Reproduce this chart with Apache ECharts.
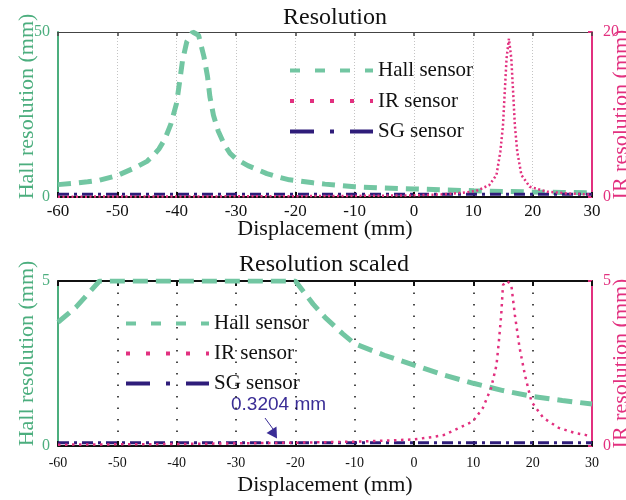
<!DOCTYPE html>
<html>
<head>
<meta charset="utf-8">
<script src="https://cdn.jsdelivr.net/npm/echarts@6/dist/echarts.min.js"></script>
<style>
  html, body { margin: 0; padding: 0; background: #fff; }
  #main { width: 626px; height: 500px; }
</style>
</head>
<body>
<div id="main"></div>
<script>
// displacement positions (mm) and values
const hallX = [-60, -57, -55, -53, -50, -47, -45, -44, -43, -42, -41, -40, -39.5, -39, -38.3, -37.3, -36.3, -35.4, -34.8, -34.4, -33.8, -33, -32, -31, -30, -28, -26, -24.8, -23, -21, -20, -17, -15, -12, -10, -5, 0, 5, 10, 15, 20, 25, 30]
const hallRes = [3.75, 4.2, 4.6, 5.1, 6.5, 8.9, 10.8, 12.5, 14.5, 17.5, 22, 28.5, 35, 41.5, 47, 50, 49, 42.5, 36.5, 30.4, 24.8, 20, 16, 13.2, 11.6, 9.5, 8, 7.1, 6.1, 5.2, 5.0, 4.3, 3.9, 3.4, 3.1, 2.75, 2.45, 2.15, 1.9, 1.68, 1.5, 1.38, 1.27]

const irTopX = [-60, -40, -20, -10, 0, 5, 8, 10.5, 12.7, 13.9, 14.55, 15.0, 15.3, 15.6, 16.0, 16.4, 16.7, 17.0, 17.4, 18.1, 19.5, 22.4, 26, 30]
const irTopRes = [0.04, 0.06, 0.1, 0.13, 0.2, 0.33, 0.5, 0.73, 1.45, 2.67, 5.5, 8.7, 12.8, 16.8, 19.2, 16.8, 12.8, 8.7, 5.5, 2.67, 1.25, 0.65, 0.42, 0.3]

const irScaledX = [-60, -50, -40, -30, -20, -10, -5, 0, 3, 5, 7.6, 9.9, 11.6, 13.0, 13.9, 14.3, 14.7, 15.0, 15.7, 16.4, 17.0, 17.8, 18.7, 19.8, 21.8, 24.4, 27, 29, 30]
const irScaledRes = [0.04, 0.05, 0.06, 0.08, 0.1, 0.13, 0.16, 0.2, 0.27, 0.33, 0.55, 0.74, 1.15, 1.76, 2.45, 3.16, 3.97, 4.88, 5.0, 4.88, 3.97, 2.97, 2.15, 1.34, 0.85, 0.55, 0.4, 0.33, 0.3]

const sgX = [-60, 30]
const sgTop = 0.32
const sgScaled = 0.1
const sgNote = '0.3204 mm'

const xTicks = { min: -60, max: 30, interval: 10 }
const hallMaxTop = 50
const irMaxTop = 20
const maxScaled = 5

const GREEN = '#72c6a2'
const GREEN_AX = '#4cae7e'
const PINK = '#e2307f'
const SG = '#2f1d7a'
const SERIF = 'Liberation Serif'

const zip = (xs, ys) => xs.map((x, i) => [x, ys[i]])

const chart = echarts.init(document.getElementById('main'))

function xAx(grid, pos, opts) {
  return Object.assign({
    type: 'value',
    gridIndex: grid,
    position: pos,
    min: xTicks.min,
    max: xTicks.max,
    interval: xTicks.interval,
    axisLine: { onZero: false, lineStyle: { color: '#111', width: 2 } },
    axisTick: { inside: true, length: 5, lineStyle: { color: '#111', width: 2 } },
    axisLabel: { show: false },
    splitLine: { show: false },
    nameMoveOverlap: false
  }, opts)
}

function yAx(grid, pos, max, color, name, opts) {
  return Object.assign({
    type: 'value',
    gridIndex: grid,
    position: pos,
    min: 0,
    max: max,
    interval: max,
    axisLine: { show: true, onZero: false, lineStyle: { color: color, width: 2 } },
    axisTick: { show: pos === 'right', inside: true, length: 4, lineStyle: { color: color, width: 2 } },
    axisLabel: { color: color, fontFamily: SERIF, fontSize: 16, margin: pos === 'right' ? 11 : 8 },
    splitLine: { show: false },
    name: name,
    nameLocation: 'middle',
    nameRotate: 90,
    nameMoveOverlap: false,
    nameTextStyle: { color: color, fontFamily: SERIF, fontSize: 22 }
  }, opts)
}

const legendItems = [
  { name: 'Hall sensor', lineStyle: { width: 4, type: [10, 15], cap: 'butt' } },
  { name: 'IR sensor', lineStyle: { width: 4, type: [4, 16], cap: 'butt' } },
  { name: 'SG sensor', lineStyle: { width: 4, type: [24, 16, 4, 16], cap: 'butt' } }
]

const legendBase = {
  orient: 'vertical', itemWidth: 83, itemHeight: 14,
  itemStyle: { opacity: 0 },
  textStyle: { fontFamily: SERIF, fontSize: 21, color: '#111' },
  data: legendItems
}

const option = {
  animation: false,
  backgroundColor: '#fff',
  grid: [
    { left: 58, right: 34, top: 32, height: 165, outerBoundsMode: 'none' },
    { left: 58, right: 34, top: 281, height: 165, outerBoundsMode: 'none' }
  ],
  legend: [
    Object.assign({ left: 283, top: 55, itemGap: 9.5 }, legendBase),
    Object.assign({ left: 119, top: 308, itemGap: 9 }, legendBase)
  ],
  xAxis: [
    xAx(0, 'bottom', {
      axisLabel: { color: '#111', fontFamily: SERIF, fontSize: 17, margin: 6 },
      splitLine: { show: true, lineStyle: { color: '#c4c4c4', width: 1, type: [1, 2] } },
      name: 'Displacement (mm)', nameLocation: 'middle', nameGap: 21,
      nameTextStyle: { color: '#111', fontFamily: SERIF, fontSize: 22 }
    }),
    xAx(0, 'top', {
      axisLine: { onZero: false, lineStyle: { color: '#444', width: 1 } },
      axisTick: { inside: true, length: 4, lineStyle: { color: '#444', width: 1.5 } }
    }),
    xAx(1, 'bottom', {
      axisLabel: { color: '#111', fontFamily: SERIF, fontSize: 14, margin: 10 },
      splitLine: { show: true, lineStyle: { color: '#111', width: 1.5, type: [1.5, 10] } },
      name: 'Displacement (mm)', nameLocation: 'middle', nameGap: 28,
      nameTextStyle: { color: '#111', fontFamily: SERIF, fontSize: 22 }
    }),
    xAx(1, 'top', {})
  ],
  yAxis: [
    yAx(0, 'left', hallMaxTop, GREEN_AX, 'Hall resolution (mm)', {
      nameGap: 20,
      nameTextStyle: { color: GREEN_AX, fontFamily: SERIF, fontSize: 22, padding: [0, 0, 0, 16] }
    }),
    yAx(0, 'right', irMaxTop, PINK, 'IR resolution (mm)', { nameGap: 18 }),
    yAx(1, 'left', maxScaled, GREEN_AX, 'Hall resolution (mm)', {
      nameGap: 20,
      nameTextStyle: { color: GREEN_AX, fontFamily: SERIF, fontSize: 22, padding: [0, 0, 0, 20] }
    }),
    yAx(1, 'right', maxScaled, PINK, 'IR resolution (mm)', { nameGap: 18 })
  ],
  series: [
    {
      name: 'Hall sensor', type: 'line', xAxisIndex: 0, yAxisIndex: 0, showSymbol: false, symbol: 'none',
      lineStyle: { color: GREEN, width: 5, type: [13, 8], cap: 'butt' }, itemStyle: { color: GREEN },
      data: zip(hallX, hallRes), z: 3
    },
    {
      name: 'IR sensor', type: 'line', xAxisIndex: 0, yAxisIndex: 1, showSymbol: false, symbol: 'none',
      lineStyle: { color: PINK, width: 2.5, type: [2, 2.5], cap: 'butt' }, itemStyle: { color: PINK },
      data: zip(irTopX, irTopRes), z: 4
    },
    {
      name: 'SG sensor', type: 'line', xAxisIndex: 0, yAxisIndex: 1, showSymbol: false, symbol: 'none',
      lineStyle: { color: SG, width: 3, type: [11, 5, 3, 5], cap: 'butt' }, itemStyle: { color: SG },
      data: sgX.map(x => [x, sgTop]), z: 3
    },
    {
      name: 'Hall sensor', type: 'line', xAxisIndex: 2, yAxisIndex: 2, showSymbol: false, symbol: 'none',
      lineStyle: { color: GREEN, width: 5, type: [15, 8], cap: 'butt' }, itemStyle: { color: GREEN },
      data: zip(hallX, hallRes.map(v => Math.min(v, maxScaled))), z: 3
    },
    {
      name: 'IR sensor', type: 'line', xAxisIndex: 2, yAxisIndex: 3, showSymbol: false, symbol: 'none',
      lineStyle: { color: PINK, width: 2.5, type: [2.5, 4.5], cap: 'butt' }, itemStyle: { color: PINK },
      data: zip(irScaledX, irScaledRes), z: 4
    },
    {
      name: 'SG sensor', type: 'line', xAxisIndex: 2, yAxisIndex: 2, showSymbol: false, symbol: 'none',
      lineStyle: { color: SG, width: 3, type: [11, 5, 3, 5], cap: 'butt' }, itemStyle: { color: SG },
      data: sgX.map(x => [x, sgScaled]), z: 3
    }
  ],
  graphic: [
    { type: 'text', x: 335, y: 18, style: { text: 'Resolution', font: '24px "Liberation Serif"', fill: '#111', textAlign: 'center', textVerticalAlign: 'middle' } },
    { type: 'text', x: 324, y: 265, style: { text: 'Resolution scaled', font: '24px "Liberation Serif"', fill: '#111', textAlign: 'center', textVerticalAlign: 'middle' } },
    { type: 'text', x: 231, y: 405, style: { text: sgNote, font: '19px "Liberation Sans"', fill: '#3a2d96', textAlign: 'left', textVerticalAlign: 'middle' } },
    { type: 'polyline', shape: { points: [[265, 418], [273, 429]] }, style: { stroke: '#3a2d96', lineWidth: 1 } },
    { type: 'polygon', shape: { points: [[266.5, 433], [276.5, 426.5], [277, 438.5]] }, style: { fill: '#3a2d96' } }
  ]
}

chart.setOption(option)
</script>
</body>
</html>
